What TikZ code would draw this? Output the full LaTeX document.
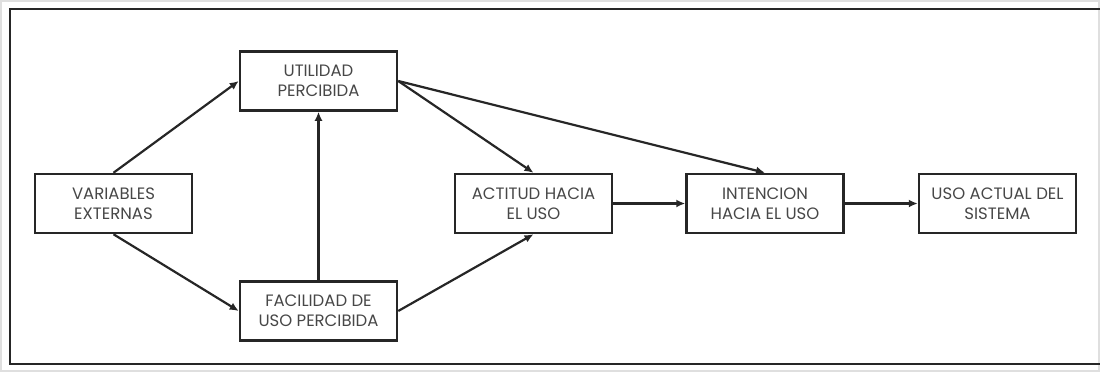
\documentclass[tikz,border=0pt]{standalone}
\usepackage{fontspec}
\setmainfont{Poppins}
\usetikzlibrary{arrows.meta}
\definecolor{tinta}{HTML}{262626}
\definecolor{letra}{HTML}{474747}
\begin{document}
\begin{tikzpicture}[x=1pt,y=-1pt,
	caja/.style={draw=tinta,line width=2.5pt,minimum width=157pt,minimum height=59pt,inner sep=0pt,
		align=center,text=letra,font=\fontsize{16.5}{20}\selectfont},
	flecha/.style={draw=tinta,line width=2.2pt,-{Latex[length=9pt,width=8pt]}}]
	\useasboundingbox (0,0) rectangle (1100,372);
	\draw[gray!25,line width=1.5pt] (1,1) rectangle (1099,371);
	\draw[tinta,line width=2.5pt] (1100,9) -- (10,9) -- (10,364) -- (1100,364);
	\node[caja] (VE) at (113.5,203.5) {VARIABLES\\EXTERNAS};
	\node[caja] (UP) at (318.5,81) {UTILIDAD\\PERCIBIDA};
	\node[caja] (FU) at (318.5,311) {FACILIDAD DE\\USO PERCIBIDA};
	\node[caja] (AU) at (533.5,203.5) {ACTITUD HACIA\\EL USO};
	\node[caja] (IU) at (765,203.5) {INTENCION\\HACIA EL USO};
	\node[caja] (UA) at (997.5,203.5) {USO ACTUAL DEL\\SISTEMA};
	\draw[flecha] (VE.north)--(UP.west);
	\draw[flecha] (VE.south)--(FU.west);
	\draw[flecha] (FU.north)--(UP.south);
	\draw[flecha] (UP.east)--(AU.north);
	\draw[flecha] (UP.east)--(IU.north);
	\draw[flecha] (FU.east)--(AU.south);
	\draw[flecha] (AU)--(IU);
	\draw[flecha] (IU)--(UA);
\end{tikzpicture}
\end{document}
